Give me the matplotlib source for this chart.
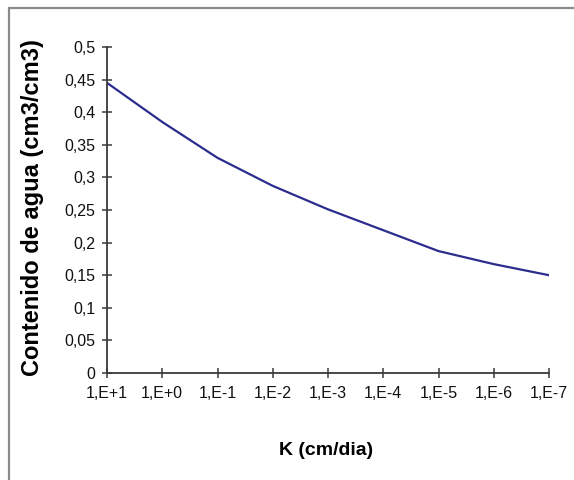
import numpy as np
import matplotlib.pyplot as plt
from matplotlib.patches import Rectangle

# K classes (cm/dia) and water content
k_labels = ["1,E+1", "1,E+0", "1,E-1", "1,E-2", "1,E-3",
            "1,E-4", "1,E-5", "1,E-6", "1,E-7"]
water_content = [0.445, 0.385, 0.330, 0.287, 0.251,
                 0.219, 0.187, 0.167, 0.150]
y_ticks = [0, 0.05, 0.1, 0.15, 0.2, 0.25, 0.3, 0.35, 0.4, 0.45, 0.5]
y_tick_labels = ["0", "0,05", "0,1", "0,15", "0,2", "0,25",
                 "0,3", "0,35", "0,4", "0,45", "0,5"]

plt.rcParams["font.family"] = ["Liberation Sans", "DejaVu Sans"]

fig = plt.figure(figsize=(5.74, 4.8), dpi=100)
ax = fig.add_axes([107 / 574, 1 - 373 / 480, 442 / 574, 326 / 480])

# outer chart frame (only left and top edges are visible)
fig.patches.append(Rectangle((9 / 574, -0.2), 1.5, 1.2 - 8 / 480,
                             transform=fig.transFigure, fill=False,
                             edgecolor="#8a8a8a", linewidth=1.6))

x = np.arange(len(k_labels))
ax.plot(x, water_content, color="#2C2C8E", linewidth=1.6,
        solid_joinstyle="round")

ax.set_xlim(0, len(k_labels) - 1)
ax.set_ylim(0, 0.5)
ax.set_xticks(x)
ax.set_xticklabels(k_labels)
ax.set_yticks(y_ticks)
ax.set_yticklabels(y_tick_labels)

for side in ["top", "right"]:
    ax.spines[side].set_visible(False)
for side in ["left", "bottom"]:
    ax.spines[side].set_color("#3a3a3a")
    ax.spines[side].set_linewidth(1.3)

ax.tick_params(axis="both", direction="inout", length=7, width=1.1,
               color="#3a3a3a", labelsize=11.5, labelcolor="#111111")
ax.tick_params(axis="y", pad=5)
ax.tick_params(axis="x", pad=6)

ax.set_ylabel("Contenido de agua (cm3/cm3)", fontsize=17,
              fontweight="bold")
ax.yaxis.set_label_coords(-0.1425, 0.508)
ax.set_xlabel("K (cm/dia)", fontsize=14, fontweight="bold")
ax.xaxis.set_label_coords(0.495, -0.212)

fig.savefig("out.png", dpi=100)
